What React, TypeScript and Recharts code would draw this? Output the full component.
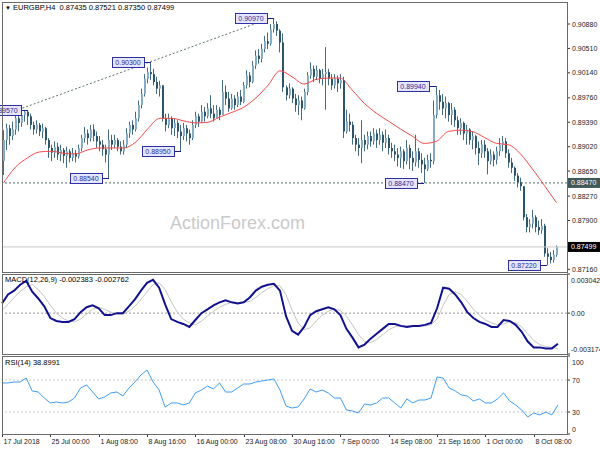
import React from "react";
import {
  ComposedChart,
  Bar,
  Line,
  XAxis,
  YAxis,
  ReferenceLine,
  ReferenceDot,
} from "recharts";

// EURGBP H4 — price, one candle per 3px column
const FIRST_OPEN = 0.888;

const closes = [
  0.8912, 0.893, 0.8918, 0.8928, 0.8945, 0.8938, 0.895, 0.8955, 0.8948, 0.8935,
  0.8928, 0.8935, 0.8925, 0.893, 0.8912, 0.89, 0.8893, 0.8902, 0.889, 0.8897,
  0.8888, 0.8895, 0.8885, 0.8892, 0.8887, 0.89, 0.8915, 0.8922, 0.8915, 0.8928,
  0.8918, 0.891, 0.8905, 0.8898, 0.889, 0.8912, 0.8905, 0.8912, 0.8902, 0.8895,
  0.8905, 0.8922, 0.8935, 0.8928, 0.8945, 0.8965, 0.8982, 0.9005, 0.9015, 0.9012,
  0.9, 0.899, 0.8995, 0.8945, 0.8935, 0.8945, 0.893, 0.8938, 0.8925, 0.8918,
  0.893, 0.8922, 0.8915, 0.8935, 0.8948, 0.894, 0.8955, 0.8948, 0.896, 0.8952,
  0.8945, 0.8958, 0.895, 0.8985, 0.8975, 0.896, 0.8975, 0.8965, 0.8978, 0.897,
  0.8995, 0.901, 0.9, 0.9025, 0.904, 0.9035, 0.905, 0.9062, 0.9058, 0.908,
  0.9088, 0.9078, 0.906, 0.8992, 0.898, 0.899, 0.8975, 0.8965, 0.8972, 0.896,
  0.8985, 0.901, 0.902, 0.9008, 0.9018, 0.9005, 0.9012, 0.9015, 0.9005, 0.8995,
  0.9005, 0.8998, 0.9003, 0.8925, 0.894, 0.8935, 0.8915, 0.8905, 0.89, 0.8912,
  0.8905, 0.8918, 0.891, 0.8922, 0.8912, 0.892, 0.8908, 0.8915, 0.89, 0.8895,
  0.889, 0.8885, 0.8895, 0.888, 0.89, 0.8885, 0.8878, 0.8895, 0.8882, 0.8875,
  0.8868, 0.8882, 0.888, 0.895, 0.898, 0.897, 0.896, 0.8968, 0.895, 0.8958,
  0.8942, 0.893, 0.8938, 0.8922, 0.8928, 0.8912, 0.8918, 0.89, 0.8892, 0.8905,
  0.8895, 0.888, 0.889, 0.8882, 0.8895, 0.8905, 0.891, 0.8892, 0.8878, 0.887,
  0.8858, 0.8848, 0.8842, 0.8795, 0.878, 0.8785, 0.8795, 0.878, 0.8775, 0.8782,
  0.874, 0.8735, 0.873, 0.8738, 0.875,
];

const highs = [
  0.8927, 0.8937, 0.8935, 0.894, 0.895, 0.8952, 0.8954, 0.8956, 0.8957, 0.8952,
  0.894, 0.8942, 0.8938, 0.8937, 0.8932, 0.8915, 0.8905, 0.891, 0.8908, 0.8905,
  0.89, 0.8902, 0.8898, 0.89, 0.8897, 0.8905, 0.892, 0.8932, 0.8928, 0.8935,
  0.8936, 0.8925, 0.8918, 0.8912, 0.8905, 0.8928, 0.892, 0.892, 0.8915, 0.891,
  0.8912, 0.893, 0.894, 0.8942, 0.8955, 0.8972, 0.899, 0.9012, 0.9022, 0.903,
  0.902, 0.9008, 0.9002, 0.8995, 0.8952, 0.8952, 0.8948, 0.8945, 0.8942, 0.8935,
  0.8938, 0.8935, 0.8928, 0.8942, 0.8955, 0.8952, 0.8965, 0.8962, 0.8968, 0.898,
  0.8965, 0.8965, 0.8962, 0.9003, 0.8995, 0.8985, 0.8982, 0.898, 0.8985, 0.8988,
  0.9, 0.9018, 0.9015, 0.9032, 0.9048, 0.905, 0.9058, 0.907, 0.9075, 0.9088,
  0.9097, 0.9092, 0.908, 0.9074, 0.8995, 0.8998, 0.8992, 0.8982, 0.898, 0.8978,
  0.899, 0.9015, 0.903, 0.9025, 0.9025, 0.902, 0.902, 0.9053, 0.902, 0.9012,
  0.9012, 0.901, 0.9012, 0.9008, 0.8958, 0.8952, 0.894, 0.892, 0.8915, 0.8942,
  0.892, 0.8925, 0.8925, 0.893, 0.8928, 0.893, 0.8925, 0.8928, 0.892, 0.8908,
  0.8905, 0.89, 0.8902, 0.8898, 0.8912, 0.8905, 0.8895, 0.892, 0.89, 0.8892,
  0.8885, 0.889, 0.8892, 0.8972, 0.8994, 0.8988, 0.8982, 0.8978, 0.897, 0.8968,
  0.8962, 0.8948, 0.8945, 0.894, 0.8935, 0.893, 0.8925, 0.892, 0.891, 0.8912,
  0.8912, 0.89, 0.8898, 0.8895, 0.8902, 0.8915, 0.8918, 0.8915, 0.8898, 0.8885,
  0.8872, 0.8862, 0.8855, 0.884, 0.88, 0.8792, 0.8806, 0.8798, 0.879, 0.8792,
  0.8785, 0.8748, 0.8742, 0.8745, 0.8752,
];

const lows = [
  0.8859, 0.8897, 0.8905, 0.8912, 0.892, 0.8925, 0.8932, 0.894, 0.8935, 0.8928,
  0.892, 0.8922, 0.8918, 0.8915, 0.8905, 0.8885, 0.888, 0.8885, 0.8882, 0.888,
  0.8877, 0.887, 0.8878, 0.888, 0.8878, 0.8884, 0.8895, 0.8908, 0.8905, 0.891,
  0.891, 0.89, 0.8895, 0.8888, 0.8878, 0.8854, 0.8897, 0.89, 0.8895, 0.889,
  0.889, 0.89, 0.8915, 0.892, 0.8925, 0.894, 0.896, 0.8978, 0.8998, 0.9003,
  0.8995, 0.8982, 0.8978, 0.894, 0.8925, 0.893, 0.892, 0.8918, 0.8915, 0.8895,
  0.8912, 0.891, 0.8905, 0.8912, 0.893, 0.8932, 0.8938, 0.894, 0.8945, 0.8945,
  0.894, 0.8945, 0.8942, 0.895, 0.8965, 0.8955, 0.8958, 0.8958, 0.8962, 0.8965,
  0.8968, 0.899, 0.8992, 0.8998, 0.902, 0.9028, 0.903, 0.9045, 0.905, 0.9055,
  0.9075, 0.907, 0.9045, 0.8985, 0.8972, 0.8975, 0.8968, 0.8955, 0.895, 0.8942,
  0.8958, 0.898, 0.9005, 0.9, 0.9003, 0.8998, 0.8995, 0.8958, 0.8995, 0.8988,
  0.899, 0.8985, 0.899, 0.8915, 0.8922, 0.8925, 0.8905, 0.8895, 0.8888, 0.8877,
  0.8895, 0.8898, 0.8902, 0.8905, 0.89, 0.8905, 0.8895, 0.89, 0.889, 0.8885,
  0.888, 0.8872, 0.887, 0.8868, 0.8875, 0.8868, 0.8865, 0.8872, 0.887, 0.8862,
  0.8847, 0.8865, 0.887, 0.8875, 0.8945, 0.8958, 0.895, 0.8945, 0.894, 0.8935,
  0.8932, 0.892, 0.892, 0.8912, 0.8905, 0.8905, 0.8898, 0.889, 0.8874, 0.8885,
  0.8885, 0.886, 0.8875, 0.8872, 0.8875, 0.8888, 0.8895, 0.8885, 0.887, 0.8862,
  0.885, 0.884, 0.8835, 0.879, 0.8772, 0.8772, 0.8778, 0.8772, 0.8768, 0.877,
  0.8735, 0.8722, 0.8725, 0.8726, 0.8735,
];

// moving average, one reading every 4 candles
const maEvery4 = [
  0.8847, 0.8871, 0.8885, 0.8894, 0.8895, 0.8892, 0.8891, 0.8897, 0.89, 0.89,
  0.89, 0.8909, 0.8929, 0.8945, 0.8945, 0.8941, 0.8938, 0.8939, 0.8947, 0.8954,
  0.8962, 0.8976, 0.8995, 0.9017, 0.9008, 0.8997, 0.9004, 0.9006, 0.9006, 0.8988,
  0.8968, 0.8953, 0.8941, 0.8929, 0.8918, 0.8907, 0.891, 0.8925, 0.8927, 0.8925,
  0.8916, 0.8907, 0.8905, 0.8891, 0.8868, 0.8843, 0.8817,
];

// MACD(12,26,9), one reading every 2 candles
const macdEvery2 = [
  0.00076, 0.00145, 0.00175, 0.00221, 0.00251, 0.00167, 0.00114, 0.00053, -0.00038, -0.00061,
  -0.00068, -0.00068, -0.00046, 0.00008, 0.00046, 0.00061, 0.00038, -0.00015, -0.00015, 0,
  0, 0.00053, 0.00107, 0.00175, 0.00236, 0.00259, 0.00198, 0.00068, -0.00046, -0.00068,
  -0.00084, -0.00107, -0.00053, 0, 0.0003, 0.00061, 0.00084, 0.00099, 0.00084, 0.00076,
  0.00084, 0.00122, 0.00175, 0.00205, 0.00221, 0.00228, 0.00175, -0.00023, -0.00137, -0.00167,
  -0.00107, -0.00015, 0.00015, 0.0003, 0.00046, 0.0003, -0.00015, -0.00122, -0.0019, -0.00266,
  -0.00244, -0.00198, -0.0016, -0.00122, -0.00084, -0.00084, -0.00099, -0.00107, -0.00099, -0.00099,
  -0.00091, -0.00076, 0.00038, 0.00198, 0.0019, 0.00145, 0.00084, 0.00008, -0.00038, -0.00068,
  -0.00084, -0.00107, -0.00107, -0.00053, -0.00061, -0.00091, -0.00145, -0.00221, -0.00266, -0.00266,
  -0.00274, -0.00274, -0.00238,
];

const signalEvery2 = [
  0.00023, 0.00068, 0.00122, 0.00167, 0.00205, 0.00221, 0.00183, 0.00129, 0.00061, 0,
  -0.00038, -0.00061, -0.00068, -0.00046, -0.00008, 0.0003, 0.00046, 0.0003, 0.00008, -0.00008,
  -0.00008, 0.00015, 0.00053, 0.00107, 0.00167, 0.00221, 0.00236, 0.00183, 0.00091, 0.00008,
  -0.00046, -0.00076, -0.00091, -0.00061, -0.00023, 0.00015, 0.00046, 0.00068, 0.00084, 0.00084,
  0.00084, 0.00091, 0.00122, 0.0016, 0.0019, 0.00213, 0.00213, 0.00145, 0.00023, -0.00076,
  -0.00129, -0.00114, -0.00061, -0.00015, 0.00015, 0.0003, 0.00023, -0.00023, -0.00091, -0.00167,
  -0.00221, -0.00228, -0.00205, -0.00167, -0.00129, -0.00107, -0.00099, -0.00099, -0.00099, -0.00099,
  -0.00099, -0.00091, -0.00046, 0.00061, 0.00145, 0.00167, 0.00145, 0.00091, 0.0003, -0.00015,
  -0.00053, -0.00076, -0.00091, -0.00084, -0.00068, -0.00076, -0.00107, -0.0016, -0.00213, -0.00244,
  -0.00259, -0.00266, -0.00276,
];

// RSI(14), one reading every 2 candles
const rsiEvery2 = [
  66.3, 66.3, 67.5, 67.5, 72.5, 56.3, 55, 47.5, 41.3, 42.5,
  41.3, 42.5, 47.5, 60, 63.8, 55, 46.3, 48.8, 53.8, 55,
  50, 60, 67.5, 76.3, 82.5, 67.5, 57.5, 36, 41.3, 41.3,
  38.8, 41.3, 53.8, 57.5, 62.5, 58.8, 66.3, 55, 55, 60,
  65, 65, 67.5, 68.8, 70, 71.3, 57.5, 37.5, 35, 36.3,
  46.3, 58.8, 55, 57.5, 53.8, 47.5, 47.5, 32.5, 31.3, 28.8,
  40, 38.8, 41.3, 47.5, 47.5, 41.3, 35, 46.3, 41.3, 45,
  45, 47.5, 73.8, 72.5, 60, 56.3, 51.3, 50, 43.8, 46.3,
  41.3, 41.3, 46.3, 53.8, 43.8, 38.8, 32.5, 23.8, 28.8, 26.3,
  30, 26.3, 38.9,
];

const timeLabels = [
  "17 Jul 2018", "25 Jul 00:00", "1 Aug 08:00", "8 Aug 16:00", "16 Aug 00:00", "23 Aug 08:00",
  "30 Aug 16:00", "7 Sep 00:00", "14 Sep 08:00", "21 Sep 16:00", "1 Oct 00:00", "8 Oct 08:00",
];
const timeTickIdx = [0, 16, 32, 48, 64, 80, 96, 112, 128, 144, 160, 176];

const priceTicks = [0.9088, 0.9051, 0.9014, 0.8976, 0.8939, 0.8902, 0.8865, 0.8827, 0.879, 0.8716];
const SUPPORT = 0.8847;
const LAST_PRICE = 0.87499;

// swing highs / lows marked on the chart
const swingIdx = [8, 35, 49, 59, 90, 140, 144, 181];
const swingVal = [0.8957, 0.8854, 0.903, 0.8895, 0.9097, 0.8847, 0.8994, 0.8722];

// trend line through the highs
const trendFrom = { i: 0, v: 0.895 };
const trendTo = { i: 89, v: 0.9097 };

const SLOTS = 188; // candles plus empty room on the right

const FONT = "'Liberation Sans', Arial, sans-serif";
const WICK = "#436c83";
const BULL = "#86adc4";
const BEAR = "#2c556c";

const rows = Array.from({ length: SLOTS }, (_, i) => {
  const row: Record<string, number | undefined> = { i };
  if (i < closes.length) {
    const o = i === 0 ? FIRST_OPEN : closes[i - 1];
    const c = closes[i];
    row.o = o;
    row.c = c;
    row.h = Math.max(highs[i], o, c);
    row.l = Math.min(lows[i], o, c);
  }
  if (i % 4 === 0 && i / 4 < maEvery4.length) row.ma = maEvery4[i / 4];
  if (i % 2 === 0 && i / 2 < macdEvery2.length) {
    row.macd = macdEvery2[i / 2];
    row.sig = signalEvery2[i / 2];
    row.rsi = rsiEvery2[i / 2];
  }
  return row;
});

const candleRange = (d: any) => (d.h == null ? null : [d.l, d.h]);

function renderCandle(props: any) {
  const { x, y, width, height, payload } = props;
  if (!payload || payload.h == null || height == null) return <g />;
  const top = Math.min(y, y + height);
  const span = Math.abs(height);
  const ppu = span / (payload.h - payload.l || 1);
  const col = Math.floor(x + width / 2);
  const yO = top + (payload.h - payload.o) * ppu;
  const yC = top + (payload.h - payload.c) * ppu;
  const up = payload.c >= payload.o;
  return (
    <g>
      <line x1={col + 0.5} x2={col + 0.5} y1={top} y2={top + span} stroke={WICK} strokeWidth={1} />
      <rect
        x={col}
        y={Math.min(yO, yC)}
        width={2}
        height={Math.max(1, Math.abs(yC - yO))}
        fill={up ? BULL : BEAR}
      />
    </g>
  );
}

function swingShape(text: string) {
  return (props: any) => {
    const { cx, cy } = props;
    const yy = Math.round(cy) + 0.5;
    const right = Math.round(cx) - 7;
    return (
      <g>
        <line x1={right} x2={Math.round(cx)} y1={yy} y2={yy} stroke="#1c1c8a" />
        <rect x={right - 32 + 0.5} y={yy - 5} width={32} height={10} fill="#e6e6fb" stroke="#3030a6" />
        <text
          x={right - 16}
          y={yy}
          dy={2.5}
          textAnchor="middle"
          fontSize={7}
          fontFamily={FONT}
          fill="#2a2a9e"
        >
          {text}
        </text>
      </g>
    );
  };
}

function PriceTick(props: any) {
  const { x, y, payload } = props;
  const v = payload.value as number;
  if (v === SUPPORT || v === LAST_PRICE) {
    return (
      <g>
        <rect x={x + 1} y={y - 5} width={33} height={10} fill={v === LAST_PRICE ? "#000" : "#3f5858"} />
        <text x={x + 4} y={y} dy={2.5} fontSize={7} fontFamily={FONT} fill="#fff">
          {v.toFixed(5)}
        </text>
      </g>
    );
  }
  return (
    <g>
      <line x1={x} x2={x + 3} y1={y} y2={y} stroke="#333" />
      <text x={x + 5} y={y} dy={2.5} fontSize={7} fontFamily={FONT} fill="#222">
        {v.toFixed(5)}
      </text>
    </g>
  );
}

const MACD_MAX = 0.003042;
const MACD_MIN = -0.003174;

function MacdTick(props: any) {
  const { x, y, payload } = props;
  const v = payload.value as number;
  const shift = v === MACD_MAX ? 6 : v === MACD_MIN ? -5 : 0;
  const label = v === 0 ? "0.00" : v.toFixed(6);
  return (
    <g>
      <line x1={x} x2={x + 3} y1={y} y2={y} stroke="#333" />
      <text x={x + 4} y={y + shift} dy={2.5} fontSize={7} fontFamily={FONT} fill="#222">
        {label}
      </text>
    </g>
  );
}

const RSI_MIN = 2.5;
const RSI_MAX = 100;

function RsiTick(props: any) {
  const { x, y, payload } = props;
  const v = payload.value as number;
  const shift = v === RSI_MAX ? 6 : v === RSI_MIN ? -5 : 0;
  const label = v === RSI_MIN ? "0" : String(v);
  return (
    <g>
      <line x1={x} x2={x + 3} y1={y} y2={y} stroke="#333" />
      <text x={x + 5} y={y + shift} dy={2.5} fontSize={7} fontFamily={FONT} fill="#222">
        {label}
      </text>
    </g>
  );
}

function TimeTick(props: any) {
  const { x, y, payload } = props;
  const k = timeTickIdx.indexOf(payload.value);
  const col = Math.round(x) + 0.5;
  return (
    <g>
      <line x1={col} x2={col} y1={y} y2={y + 3} stroke="#333" />
      <text x={col + 1} y={y + 10} fontSize={7} fontFamily={FONT} fill="#222">
        {k >= 0 ? timeLabels[k] : ""}
      </text>
    </g>
  );
}

const frame: React.CSSProperties = {
  position: "absolute",
  left: 2,
  width: 566,
  boxSizing: "border-box",
  border: "1px solid #6a6a6a",
  pointerEvents: "none",
};

const smallText: React.CSSProperties = {
  position: "absolute",
  left: 5,
  fontSize: 7.5,
  lineHeight: "10px",
  fontFamily: FONT,
  color: "#000",
  whiteSpace: "nowrap",
};

export default function App() {
  return (
    <div style={{ position: "relative", width: 600, height: 450, background: "#fff", overflow: "hidden" }}>
      <style>{"body{margin:0}"}</style>

      <div
        style={{
          position: "absolute",
          left: 170,
          top: 214,
          fontSize: 18,
          lineHeight: "18px",
          fontFamily: FONT,
          color: "#cacaca",
        }}
      >
        ActionForex.com
      </div>

      {/* price panel */}
      <div style={{ position: "absolute", left: 0, top: 0 }}>
        <ComposedChart width={600} height={273} data={rows} margin={{ top: 2, right: 0, bottom: 1, left: 2 }}>
          <XAxis dataKey="i" type="category" hide />
          <YAxis
            orientation="right"
            type="number"
            width={33}
            domain={[0.87119, 0.91214]}
            allowDataOverflow
            ticks={[...priceTicks, SUPPORT, LAST_PRICE]}
            interval={0}
            axisLine={false}
            tickLine={false}
            tickSize={0}
            tickMargin={0}
            tick={<PriceTick />}
          />
          <ReferenceLine y={LAST_PRICE} stroke="#c8c8c8" strokeWidth={1} />
          <ReferenceLine y={SUPPORT} stroke="#4f6a6a" strokeDasharray="2 2" />
          <ReferenceLine
            segment={[
              { x: trendFrom.i, y: trendFrom.v },
              { x: trendTo.i, y: trendTo.v },
            ]}
            stroke="#5d7070"
            strokeDasharray="2 2"
          />
          <Bar dataKey={candleRange} shape={renderCandle} barSize={3} isAnimationActive={false} />
          <Line
            dataKey="ma"
            type="monotone"
            stroke="#f24a4a"
            strokeWidth={1}
            dot={false}
            connectNulls
            isAnimationActive={false}
          />
          {swingIdx.map((idx, k) => (
            <ReferenceDot
              key={idx}
              x={idx}
              y={swingVal[k]}
              r={0}
              shape={swingShape(swingVal[k].toFixed(5))}
            />
          ))}
        </ComposedChart>
      </div>

      {/* MACD panel */}
      <div style={{ position: "absolute", left: 0, top: 272 }}>
        <ComposedChart width={600} height={84} data={rows} margin={{ top: 2, right: 0, bottom: 2, left: 2 }}>
          <XAxis dataKey="i" type="category" hide />
          <YAxis
            orientation="right"
            type="number"
            width={33}
            domain={[MACD_MIN, MACD_MAX]}
            allowDataOverflow
            ticks={[MACD_MAX, 0, MACD_MIN]}
            interval={0}
            axisLine={false}
            tickLine={false}
            tickSize={0}
            tickMargin={0}
            tick={<MacdTick />}
          />
          <ReferenceLine y={0} stroke="#999" strokeDasharray="2 2" />
          <Line
            dataKey="sig"
            type="linear"
            stroke="#c4c4c4"
            strokeWidth={1}
            dot={false}
            connectNulls
            isAnimationActive={false}
          />
          <Line
            dataKey="macd"
            type="linear"
            stroke="#12128e"
            strokeWidth={2}
            dot={false}
            connectNulls
            isAnimationActive={false}
          />
        </ComposedChart>
      </div>

      {/* RSI panel */}
      <div style={{ position: "absolute", left: 0, top: 354 }}>
        <ComposedChart width={600} height={96} data={rows} margin={{ top: 2, right: 0, bottom: 0, left: 2 }}>
          <XAxis
            dataKey="i"
            type="category"
            height={16}
            ticks={timeTickIdx}
            interval={0}
            axisLine={false}
            tickLine={false}
            tickSize={0}
            tickMargin={0}
            tick={<TimeTick />}
          />
          <YAxis
            orientation="right"
            type="number"
            width={33}
            domain={[RSI_MIN, RSI_MAX]}
            allowDataOverflow
            ticks={[RSI_MAX, 70, 30, RSI_MIN]}
            interval={0}
            axisLine={false}
            tickLine={false}
            tickSize={0}
            tickMargin={0}
            tick={<RsiTick />}
          />
          <ReferenceLine y={70} stroke="#c8c8c8" strokeDasharray="2 2" />
          <ReferenceLine y={30} stroke="#c8c8c8" strokeDasharray="2 2" />
          <Line
            dataKey="rsi"
            type="linear"
            stroke="#3f9cf4"
            strokeWidth={1}
            dot={false}
            connectNulls
            isAnimationActive={false}
          />
        </ComposedChart>
      </div>

      <div style={{ ...frame, top: 2, height: 271 }} />
      <div style={{ ...frame, top: 274, height: 81 }} />
      <div style={{ ...frame, top: 356, height: 79 }} />

      <div style={{ ...smallText, top: 3 }}>
        <span style={{ fontSize: 6 }}>▼</span>&nbsp;EURGBP,H4&nbsp; 0.87435 0.87521 0.87350 0.87499
      </div>
      <div style={{ ...smallText, top: 275 }}>MACD(12,26,9) -0.002383 -0.002762</div>
      <div style={{ ...smallText, top: 358 }}>RSI(14) 38.8991</div>
    </div>
  );
}
